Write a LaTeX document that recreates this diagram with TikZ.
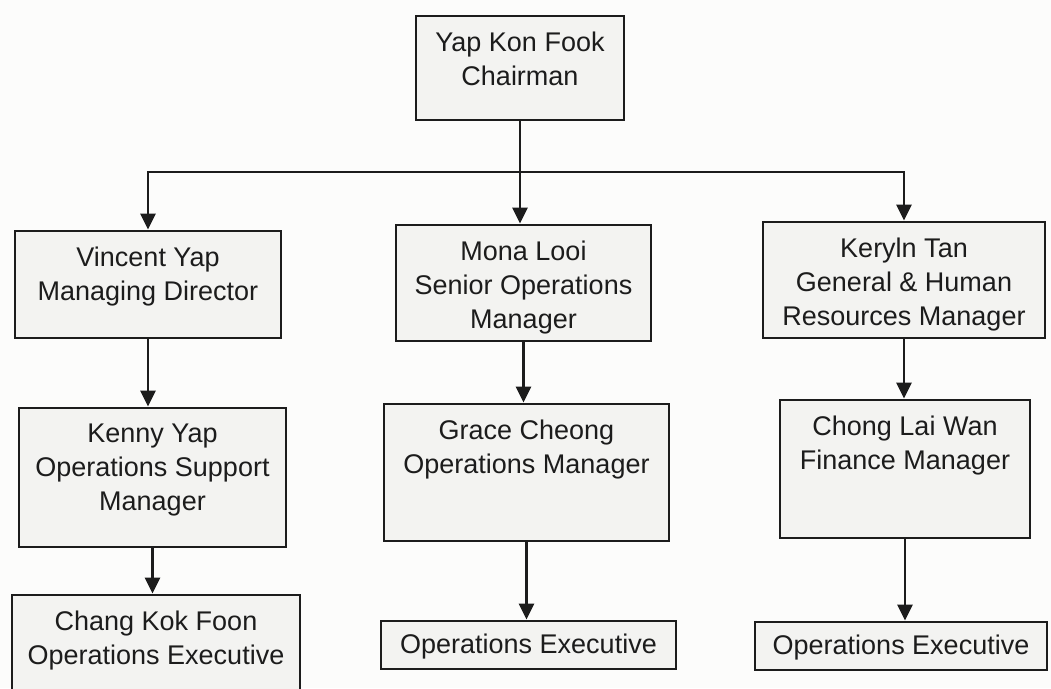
\documentclass[tikz,border=0pt]{standalone}
\usepackage{fontspec}
\setmainfont{Liberation Sans}
\usetikzlibrary{arrows.meta,positioning}
\definecolor{ink}{HTML}{1C1C1C}
\definecolor{boxfill}{HTML}{F3F3F1}
\definecolor{bgfill}{HTML}{FCFCFB}
\begin{document}
\begin{tikzpicture}[x=1pt,y=-1pt,
  orgbox/.style={draw=ink, line width=2.8pt, fill=boxfill, inner sep=0pt},
  lbl/.style={anchor=north, inner sep=0pt, align=center, text=ink,
              font=\fontsize{27}{34}\selectfont},
  arr/.style={draw=ink, line width=2.8pt, -{Triangle[width=15pt,length=16pt]}}]
\useasboundingbox (0,0) rectangle (1051,688);
\fill[bgfill] (0,0) rectangle (1051,688);
\clip (0,0) rectangle (1051,688);

% boxes
\node[orgbox, minimum width=208pt, minimum height=104pt] (ch)  at (520,68)     {};
\node[orgbox, minimum width=266pt, minimum height=107pt] (vy)  at (148,284.5)  {};
\node[orgbox, minimum width=255pt, minimum height=116pt] (ml)  at (523.5,283)  {};
\node[orgbox, minimum width=282pt, minimum height=116pt] (kt)  at (904,280)    {};
\node[orgbox, minimum width=267pt, minimum height=139pt] (ky)  at (152.5,477.5){};
\node[orgbox, minimum width=285pt, minimum height=137pt] (gc)  at (526.5,472.5){};
\node[orgbox, minimum width=250pt, minimum height=138pt] (cl)  at (905,469)    {};
\node[orgbox, minimum width=288pt, minimum height=105pt] (ck)  at (156,647.5)  {};
\node[orgbox, minimum width=295pt, minimum height=48pt]  (oe1) at (528.5,645)  {};
\node[orgbox, minimum width=292pt, minimum height=48pt]  (oe2) at (901,646)    {};

% texts
\node[lbl, below=17pt of ch.north]  (chT)  {Yap Kon Fook\\Chairman};
\node[lbl, below=17pt of vy.north]  (vyT)  {Vincent Yap\\Managing Director};
\node[lbl, below=17pt of ml.north]  (mlT)  {Mona Looi\\Senior Operations\\Manager};
\node[lbl, below=17pt of kt.north]  (ktT)  {Keryln Tan\\General \& Human\\Resources Manager};
\node[lbl, below=17pt of ky.north]  (kyT)  {Kenny Yap\\Operations Support\\Manager};
\node[lbl, below=17pt of gc.north]  (gcT)  {Grace Cheong\\Operations Manager};
\node[lbl, below=17pt of cl.north]  (clT)  {Chong Lai Wan\\Finance Manager};
\node[lbl, below=17pt of ck.north]  (ckT)  {Chang Kok Foon\\Operations Executive};
\node[lbl, below=14pt of oe1.north] (oe1T) {Operations Executive};
\node[lbl, below=14pt of oe2.north] (oe2T) {Operations Executive};

% connectors
\coordinate (bus) at (520,172);
\draw[arr] (ch.south) -- (ch.south |- ml.north);
\draw[arr] (bus) -| (vy.north);
\draw[arr] (bus) -| (kt.north);
\draw[arr] (vy.south) -- (vy.south |- ky.north);
\draw[arr] (ky.south) -- (ky.south |- ck.north);
\draw[arr] (ml.south) -- (ml.south |- gc.north);
\draw[arr] (gc.south) -- (gc.south |- oe1.north);
\draw[arr] (kt.south) -- (kt.south |- cl.north);
\draw[arr] (cl.south) -- (cl.south |- oe2.north);
\end{tikzpicture}
\end{document}
